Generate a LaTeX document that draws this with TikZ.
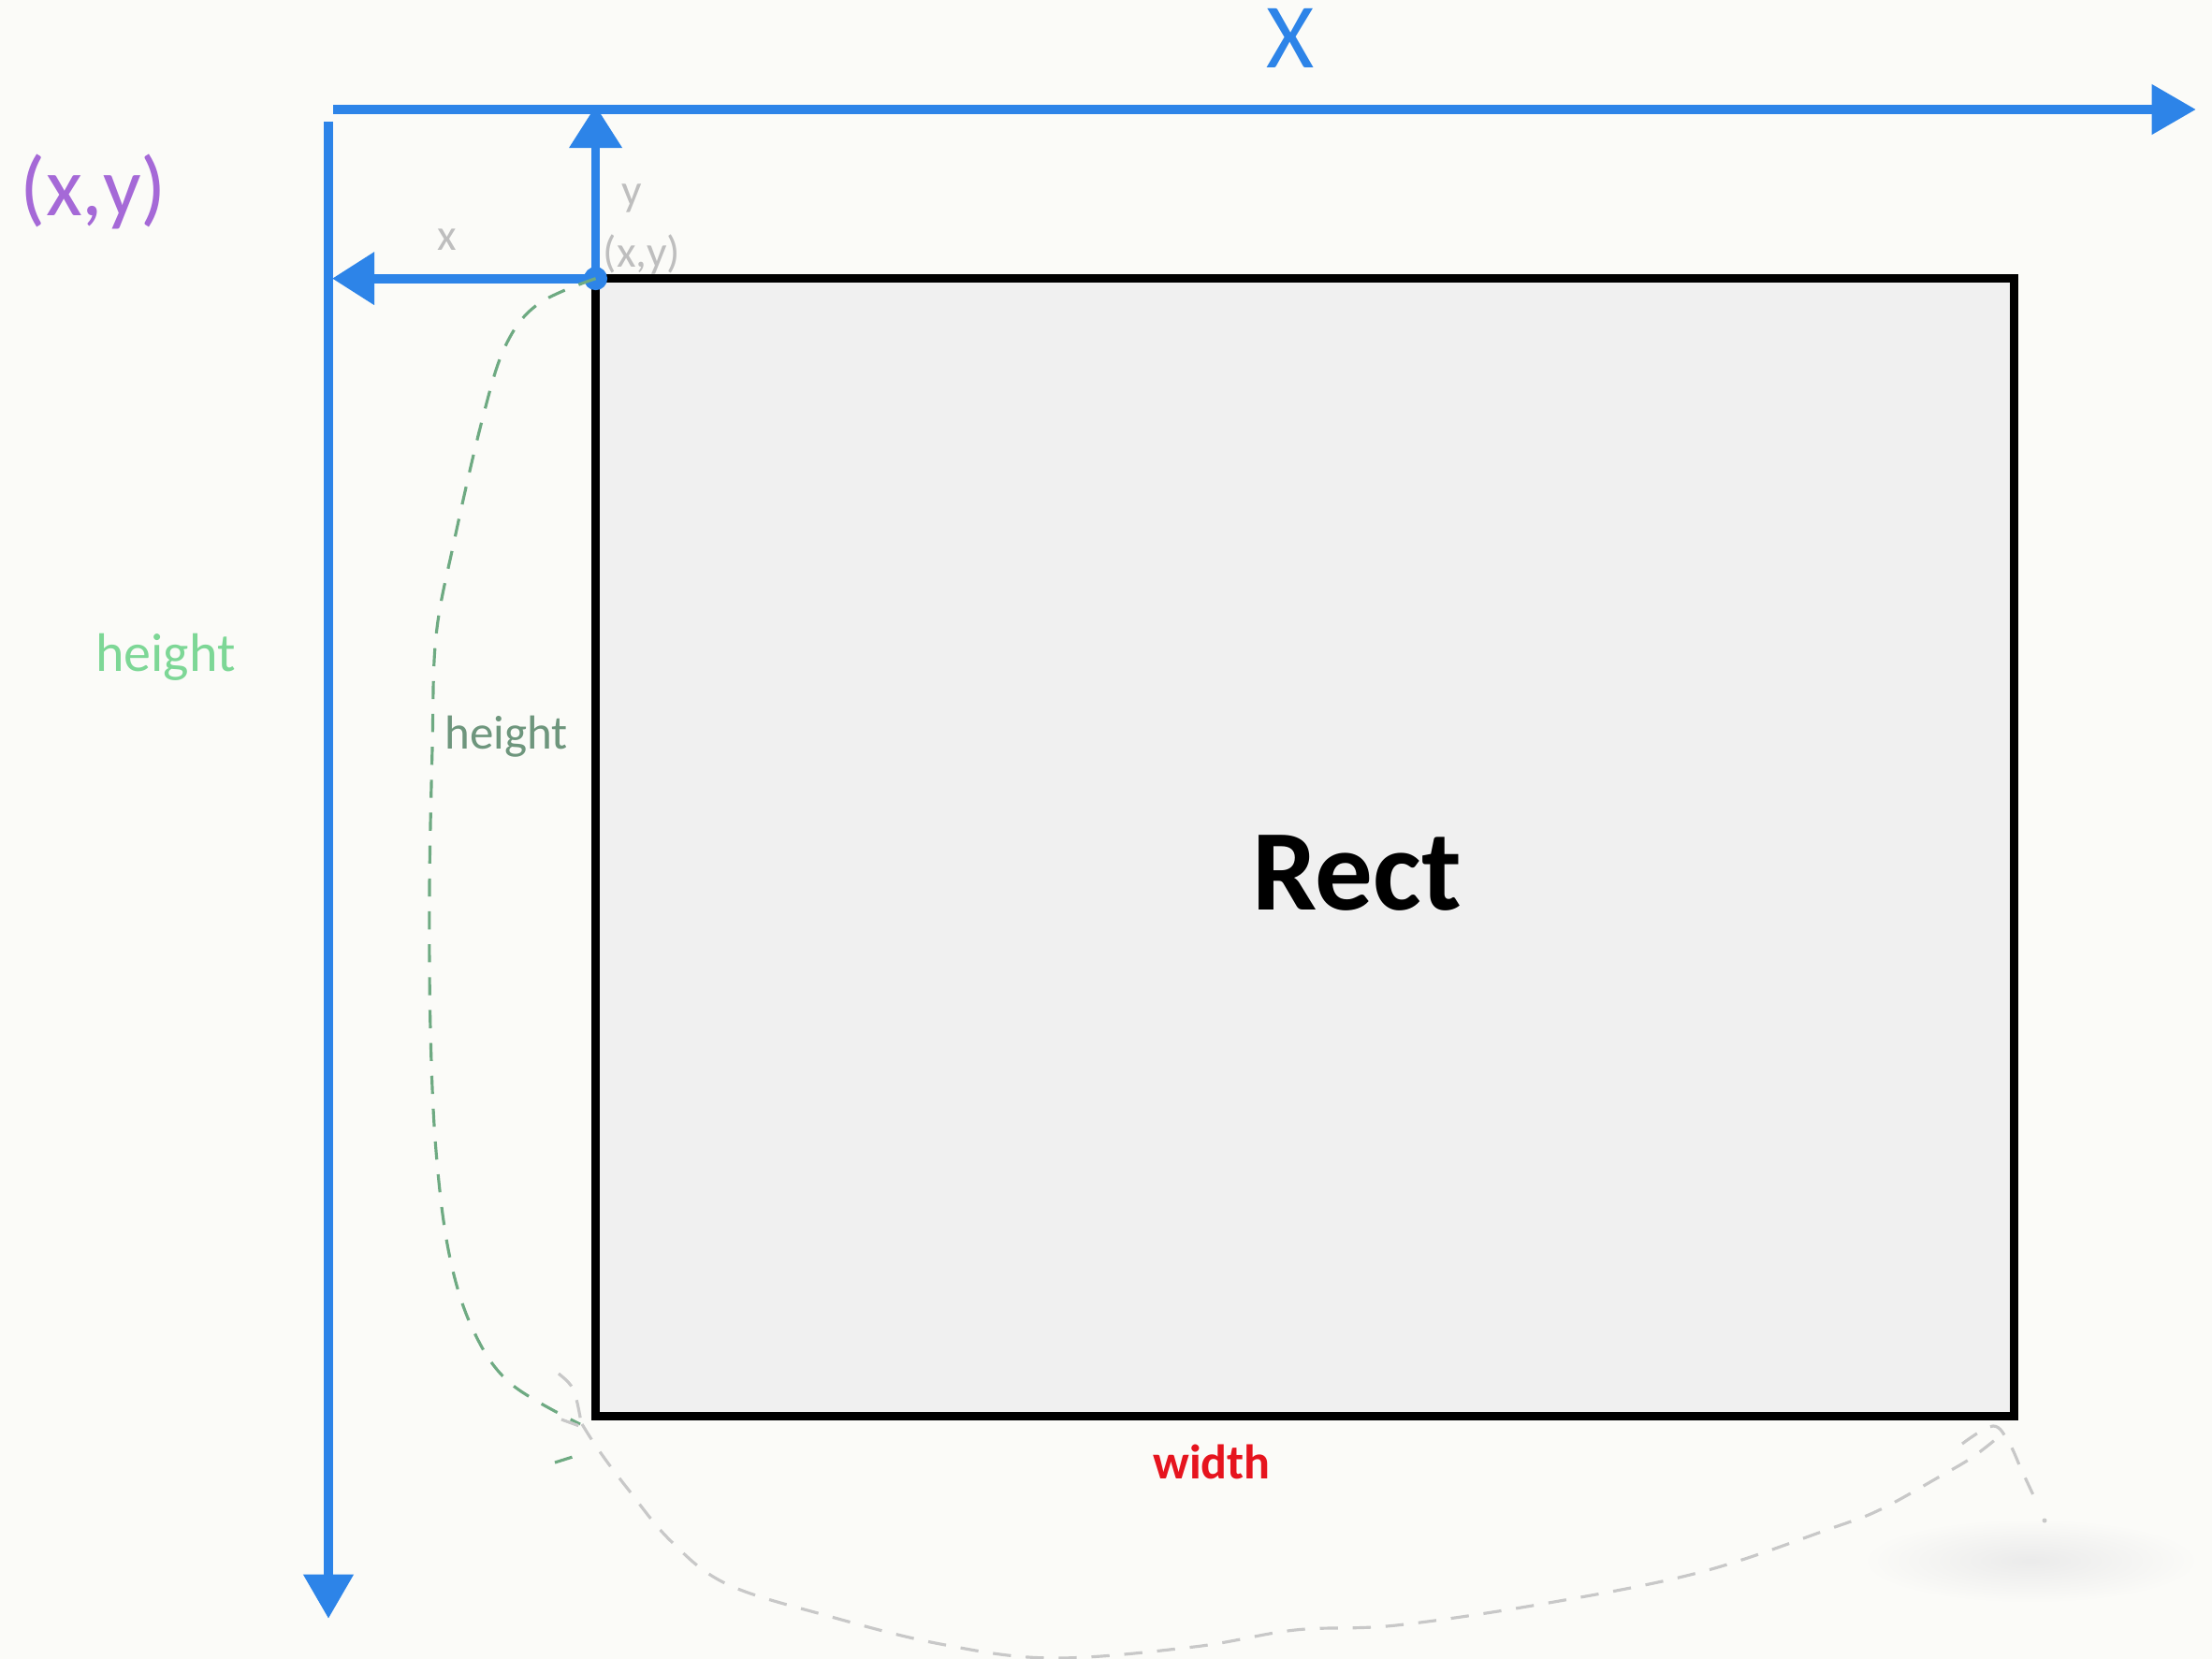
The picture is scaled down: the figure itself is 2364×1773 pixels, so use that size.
\documentclass[tikz,border=0pt]{standalone}
\usepackage{fontspec}
\setmainfont{Carlito}
\usetikzlibrary{arrows.meta, positioning, calc}
\usepackage{xcolor}
\definecolor{paper}{RGB}{251, 251, 248}
\definecolor{axisblue}{RGB}{45, 132, 232}
\definecolor{pointpurple}{RGB}{165, 105, 215}
\definecolor{lightgreen}{RGB}{125, 215, 150}
\definecolor{sagegreen}{RGB}{110, 150, 125}
\definecolor{dashgreen}{RGB}{110, 170, 130}
\definecolor{dashgray}{RGB}{200, 200, 200}
\definecolor{widthred}{RGB}{230, 20, 30}
\definecolor{hintgray}{RGB}{190, 190, 190}

\begin{document}
\begin{tikzpicture}[
  x=0.01cm, y=-0.01cm,
  axis/.style={draw=axisblue, line width=3.1pt,
    -{Triangle[length=13.5pt, width=14.5pt]}},
  offset/.style={draw=axisblue, line width=2.8pt,
    -{Triangle[length=12.8pt, width=15.4pt]}},
  rectbox/.style={
    rectangle, draw=black, line width=2.7pt, fill=black!6,
    minimum width=15.15cm, minimum height=12.15cm, inner sep=0pt, outer sep=0pt
  },
  pin/.style={circle, fill=axisblue, inner sep=0pt, minimum size=0.25cm},
  greendash/.style={draw=dashgreen, line width=0.9pt, dash pattern=on 5.5pt off 4.5pt},
  graydash/.style={draw=dashgray, line width=0.9pt, dash pattern=on 5.5pt off 4.5pt},
  hint/.style={text=hintgray, font=\fontsize{13.5}{14}\selectfont, inner sep=0pt},
]

%% Page
\useasboundingbox (0,0) rectangle (2364,1773);
\fill[paper] (0,0) rectangle (2364,1773);

%% Soft shadow
\shade[inner color=black!8, outer color=paper] (2170,1668) ellipse [x radius=1.8cm, y radius=0.45cm];

%% Axes
\coordinate (xstart) at (356,117);
\coordinate (xend)   at (2347,117);
\coordinate (ystart) at (351,130);
\coordinate (yend)   at (351,1730);
\draw[axis] (xstart) -- (xend);
\draw[axis] (ystart) -- (yend);
\node[text=axisblue, font=\fontsize{28}{29}\selectfont, inner sep=0pt] (xname) at (1379,41) {X};

%% Rectangle
\node[rectbox] (rect) at (1394.5,905.5) {};
\node[font=\fontsize{35}{36}\selectfont\bfseries, inner sep=0pt] (rectname) at (1450,933) {Rect};

%% Offsets from the axes
\node[pin] (corner) at (rect.north west) {};
\draw[offset] (corner.center) -- (corner |- 0,113);
\draw[offset] (corner.center) -- (corner -| 355,0);
\node[hint] (xhint) at (478,256) {x};
\node[hint] (yhint) at (675,212) {y};
\node[hint] (xyhint) at (686,272) {(x,y)};

%% Labels
\node[text=pointpurple, font=\fontsize{25.5}{26}\selectfont, inner sep=0pt] (point) at (100,205) {(x,y)};
\node[text=lightgreen, font=\fontsize{16.5}{17}\selectfont, inner sep=0pt] (hleft) at (177,702) {height};
\node[text=sagegreen, font=\fontsize{14.5}{15}\selectfont, inner sep=0pt] (hside) at (541,787) {height};
\node[text=widthred, font=\fontsize{14.8}{15}\selectfont\bfseries, inner sep=0pt] (wname) at (1295,1562) {width};

%% Hand-drawn strokes
% height
\draw[greendash] plot[smooth, tension=0.6] coordinates {
  (corner) (575,325) (540,370) (515,450) (485,580) (466,680) (462,800)
  (459,950) (460,1100) (466,1230) (480,1340) (505,1420) (545,1478) (620,1522)};
\draw[greendash] (593,1563) -- (612,1557);
% width
\draw[graydash] (597,1468) .. controls (614,1482) .. (622,1525);
\draw[graydash] (600,1517) -- (622,1525);
\draw[graydash] plot[smooth, tension=0.6] coordinates {
  (622,1522) (640,1550) (670,1590) (717,1647) (777,1693) (885,1727)
  (1005,1757) (1124,1772) (1276,1760) (1384,1742) (1492,1737) (1655,1713)
  (1818,1680) (1958,1633) (2010,1613) (2073,1578) (2107,1558) (2133,1538)};
\draw[graydash] plot[smooth, tension=0.6] coordinates {
  (2097,1543) (2130,1524) (2147,1542) (2160,1570) (2174,1600)};
\fill[dashgray] (2185,1625) circle (0.025cm);

\end{tikzpicture}
\end{document}
